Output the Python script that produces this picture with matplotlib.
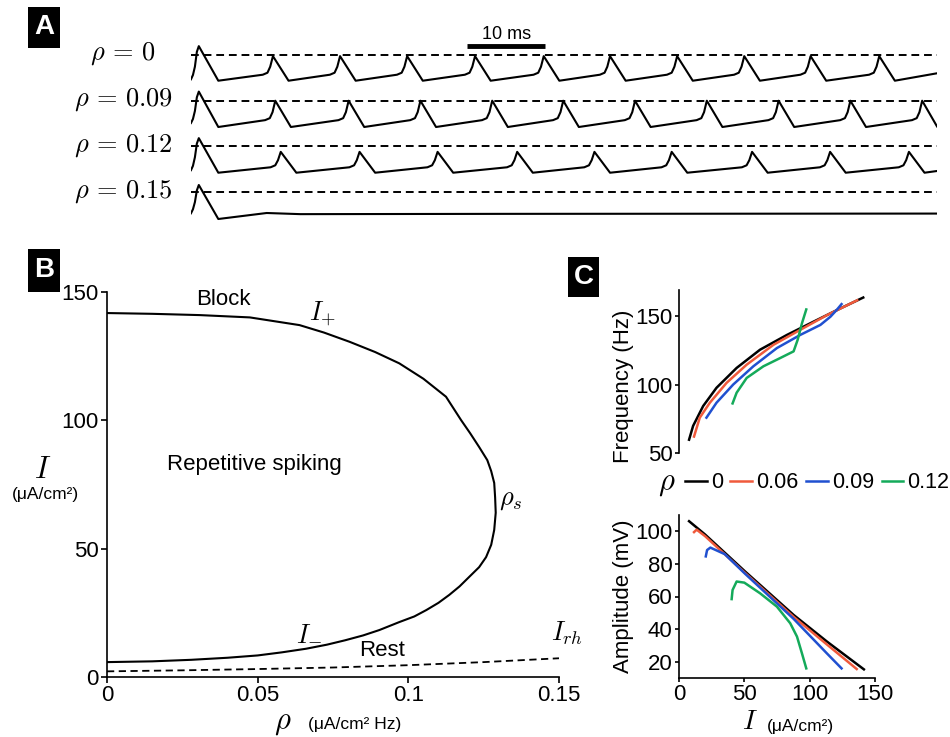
import matplotlib
matplotlib.use("Agg")
import matplotlib.pyplot as plt
from matplotlib.patches import Rectangle

plt.rcParams['font.family'] = ['Liberation Sans', 'DejaVu Sans']
plt.rcParams['mathtext.fontset'] = 'cm'

W, H = 950, 737

# ---------------- Panel A: voltage traces ----------------
row_labels = [r'$\rho\,=\,0$', r'$\rho\,=\,0.09$', r'$\rho\,=\,0.12$', r'$\rho\,=\,0.15$']
row_offsets = [0, -160, -318, -480]
t_end = 95.6

first_t = [0, 0.25, 0.5, 0.75, 1.0, 3.5]
first_v = [[-85, -70, -41, 11, 31, -90],
           [-78, -64, -36, 12, 32, -92],
           [-85, -70, -40, 8, 27, -94]]

peaks_0 = [1.0, 10.5, 19.1, 27.7, 36.4, 45.2, 53.7, 62.3, 70.9, 79.4, 88.2]
peaks_009 = [1.0, 10.8, 20.2, 29.4, 38.6, 47.7, 56.9, 66.1, 75.3, 84.5, 93.7]
peaks_012 = [1.0, 11.5, 21.6, 31.6, 41.8, 51.7, 61.6, 71.9, 81.9, 92.0]

spike_dt = [-1.3, -0.7, -0.35, 0, 2.0]
spike_v = [[-69, -62, -41, -4, -90],
           [-68, -61, -40, 0, -92],
           [-75, -68, -50, -21, -94]]
end_v = [-64, -90, -88]

# rho = 0.15: single spike then rest
t_015 = [0, 0.25, 0.5, 0.75, 1.0, 3.5, 9.7, 14, 40, 95.6]
v_015 = [-74, -60, -35, 6, 25, -94, -73, -77, -76, -75]

# ---------------- Panel B: bifurcation diagram ----------------
rho_loop = [0, 0.015, 0.028, 0.04, 0.05, 0.058, 0.066, 0.073, 0.079, 0.085,
            0.0904, 0.097, 0.102, 0.106, 0.110, 0.1136, 0.117, 0.1202, 0.1235,
            0.1258, 0.1275, 0.1285, 0.129, 0.1288, 0.1285, 0.1275, 0.1262,
            0.1235, 0.1205, 0.1175, 0.1125, 0.105, 0.097, 0.089, 0.0805, 0.072,
            0.0639, 0.0474, 0.0308, 0.015, 0]
I_loop = [5.8, 6.1, 6.7, 7.5, 8.4, 9.6, 11.0, 12.6, 14.3, 16.2,
          18.3, 21.4, 23.6, 26.1, 28.9, 32.0, 35.3, 39.0, 42.8,
          46.7, 51.5, 57.3, 64.0, 70.0, 75.6, 80.2, 84.5,
          89.6, 95.0, 100.1, 109.2, 116.2, 122.2, 126.6, 130.6, 134.2,
          137.1, 140.1, 141.0, 141.5, 141.8]
rho_rh = [0, 0.025, 0.05, 0.075, 0.1, 0.125, 0.15]
I_rh = [2.2, 2.6, 3.1, 3.7, 4.6, 5.8, 7.3]

# ---------------- Panel C: frequency / amplitude ----------------
c_labels = ['0', '0.06', '0.09', '0.12']
c_colors = ['black', '#f05a3c', '#2050d0', '#14aa5a']

freq_I = [[7.7, 10.8, 18.5, 28.7, 44.1, 62, 82.6, 103, 123.6, 141],
          [11.5, 15.9, 23.6, 36.4, 51.8, 72.3, 92.8, 113.3, 123.6, 136.4],
          [21, 28.7, 41.5, 56.9, 74.9, 92.8, 108.2, 115.9, 121, 124.4],
          [41, 44.1, 51.8, 64.6, 77.4, 87.7, 90.8, 94.1, 97.4]]
freq_f = [[59.7, 69.8, 84.3, 97.6, 112.1, 125.4, 136.2, 145.9, 155.6, 163.5],
          [62, 75.8, 86.7, 101.2, 114.5, 129, 139.9, 150.7, 155.5, 161.5],
          [75.8, 86.7, 100, 113.3, 126.6, 136.2, 143.5, 149.5, 154.8, 158.7],
          [86.2, 94, 104.8, 113.3, 119.3, 124.2, 132.6, 144.7, 154.8]]

amp_I = [[7.7, 20, 50.5, 87.7, 113.3, 141.5],
         [11.5, 13.5, 20, 50.5, 87.7, 113.3, 136],
         [20.5, 21.5, 24, 35, 50.5, 87.7, 113.3, 124.4],
         [40.3, 41, 44.1, 50, 62, 74.9, 85.1, 90.3, 94.1, 97.4]]
amp_A = [[106.2, 98, 75.4, 48.7, 32.3, 15.3],
         [99.5, 101, 97, 74.5, 47.5, 30.5, 15.5],
         [84.6, 88.5, 90, 86, 74, 46.3, 25, 15.9],
         [58.4, 64, 69.2, 68.5, 62, 53.8, 43.6, 35.4, 25.1, 15.9]]


def fx(px):
    return px / W


def fy(py):
    return 1 - py / H


def panel_box(fig, letter, x0, y0, x1, y1):
    fig.add_artist(Rectangle((fx(x0), fy(y1)), fx(x1) - fx(x0), fy(y0) - fy(y1),
                             transform=fig.transFigure, facecolor='black',
                             edgecolor='none'))
    fig.text(fx((x0 + x1) / 2), fy((y0 + y1) / 2), letter, color='white',
             fontsize=20, fontweight='bold', ha='center', va='center')


def build_trace(fv, peaks, sv, ev):
    t = list(first_t)
    v = list(fv)
    for tp in peaks[1:]:
        for dt, vv in zip(spike_dt, sv):
            if tp + dt < t_end:
                t.append(tp + dt)
                v.append(vv)
    t.append(t_end)
    v.append(ev)
    return t, v


fig = plt.figure(figsize=(9.5, 7.37), dpi=100)

# ---- A ----
axA = fig.add_axes([fx(191), fy(230), fx(937) - fx(191), fy(20) - fy(230)])
axA.set_xlim(0, t_end)
axA.set_ylim(-612.5, 122.5)
axA.axis('off')

all_peaks = [peaks_0, peaks_009, peaks_012]
for i in range(3):
    t, v = build_trace(first_v[i], all_peaks[i], spike_v[i], end_v[i])
    axA.plot(t, [vv + row_offsets[i] for vv in v], color='black', lw=1.5,
             solid_joinstyle='round')
axA.plot(t_015, [vv + row_offsets[3] for vv in v_015], color='black', lw=1.5,
         solid_joinstyle='round')

for off in row_offsets:
    axA.axhline(off, color='black', lw=1.4, ls=(0, (4, 2.5)))

axA.plot([35.4, 45.4], [33, 33], color='black', lw=3.5, solid_capstyle='butt',
         clip_on=False)
axA.text(40.4, 72, '10 ms', ha='center', va='center', fontsize=13)

for lab, py in zip(row_labels, [54, 100, 146, 192]):
    fig.text(fx(123), fy(py), lab, ha='center', va='center', fontsize=19)

panel_box(fig, 'A', 28, 7, 60, 48)

# ---- B ----
axB = fig.add_axes([fx(107), fy(677), fx(559) - fx(107), fy(292) - fy(677)])
axB.plot(rho_loop, I_loop, color='black', lw=1.5)
axB.plot(rho_rh, I_rh, color='black', lw=1.3, ls=(0, (4, 2.5)))
axB.set_xlim(0, 0.15)
axB.set_ylim(0, 150)
axB.set_xticks([0, 0.05, 0.1, 0.15])
axB.set_xticklabels(['0', '0.05', '0.1', '0.15'])
axB.set_yticks([0, 50, 100, 150])
for s in ['top', 'right']:
    axB.spines[s].set_visible(False)
for s in ['left', 'bottom']:
    axB.spines[s].set_linewidth(1.2)
axB.tick_params(direction='out', length=4, width=1.2, labelsize=16, pad=2)

axB.text(0.0387, 146.9, 'Block', ha='center', va='center', fontsize=16)
axB.text(0.0715, 141.5, r'$I_{+}$', ha='center', va='center', fontsize=19)
axB.text(0.049, 82.6, 'Repetitive spiking', ha='center', va='center', fontsize=16)
axB.text(0.134, 69, r'$\rho_{s}$', ha='center', va='center', fontsize=19)
axB.text(0.0672, 17.1, r'$I_{-}$', ha='center', va='center', fontsize=19)
axB.text(0.0914, 10.5, 'Rest', ha='center', va='center', fontsize=16)
axB.text(0.1526, 17.1, r'$I_{rh}$', ha='center', va='center', fontsize=19,
         clip_on=False)

fig.text(fx(43), fy(470), r'$I$', ha='center', va='center', fontsize=22)
fig.text(fx(45), fy(495), '(μA/cm²)', ha='center', va='center', fontsize=12.5)
fig.text(fx(283), fy(722), r'$\rho$', ha='center', va='center', fontsize=22)
fig.text(fx(308), fy(725), '(μA/cm² Hz)', ha='left', va='center', fontsize=12.5)

panel_box(fig, 'B', 28, 249, 60, 292)

# ---- C ----
axF = fig.add_axes([fx(679), fy(453), fx(875) - fx(679), fy(290) - fy(453)])
axA2 = fig.add_axes([fx(679), fy(678), fx(875) - fx(679), fy(515) - fy(678)])

for i in range(4):
    axF.plot(freq_I[i], freq_f[i], color=c_colors[i], lw=1.8, label=c_labels[i])
    axA2.plot(amp_I[i], amp_A[i], color=c_colors[i], lw=1.8)

axF.set_xlim(0, 150)
axF.set_ylim(50, 169)
axF.set_yticks([50, 100, 150])
axF.set_xticks([])
for s in ['top', 'right', 'bottom']:
    axF.spines[s].set_visible(False)
axF.spines['left'].set_linewidth(1.2)
axF.tick_params(direction='out', length=3, width=1.2, labelsize=16, pad=1.5)
axF.patch.set_alpha(0)

axA2.set_xlim(0, 150)
axA2.set_ylim(10, 110)
axA2.set_xticks([0, 50, 100, 150])
axA2.set_yticks([20, 40, 60, 80, 100])
for s in ['top', 'right']:
    axA2.spines[s].set_visible(False)
for s in ['left', 'bottom']:
    axA2.spines[s].set_linewidth(1.2)
axA2.tick_params(direction='out', length=3, width=1.2, labelsize=16, pad=1.5)
axA2.patch.set_alpha(0)

fig.text(fx(623), fy(386), 'Frequency (Hz)', rotation=90, ha='center', va='center',
         fontsize=16)
fig.text(fx(623), fy(596), 'Amplitude (mV)', rotation=90, ha='center', va='center',
         fontsize=16)
fig.text(fx(750), fy(722), r'$I$', ha='center', va='center', fontsize=20)
fig.text(fx(767), fy(726), '(μA/cm²)', ha='left', va='center', fontsize=12.5)

handles, labels = axF.get_legend_handles_labels()
fig.legend(handles, labels, loc='center left', bbox_to_anchor=(fx(685), fy(483)),
           ncol=4, frameon=False, fontsize=15.5, handlelength=1.0,
           handletextpad=0.2, columnspacing=0.35, borderpad=0, borderaxespad=0)
fig.text(fx(667), fy(483), r'$\rho$', ha='center', va='center', fontsize=22)

panel_box(fig, 'C', 568, 257, 599, 297)

fig.savefig('out.png', dpi=100)
